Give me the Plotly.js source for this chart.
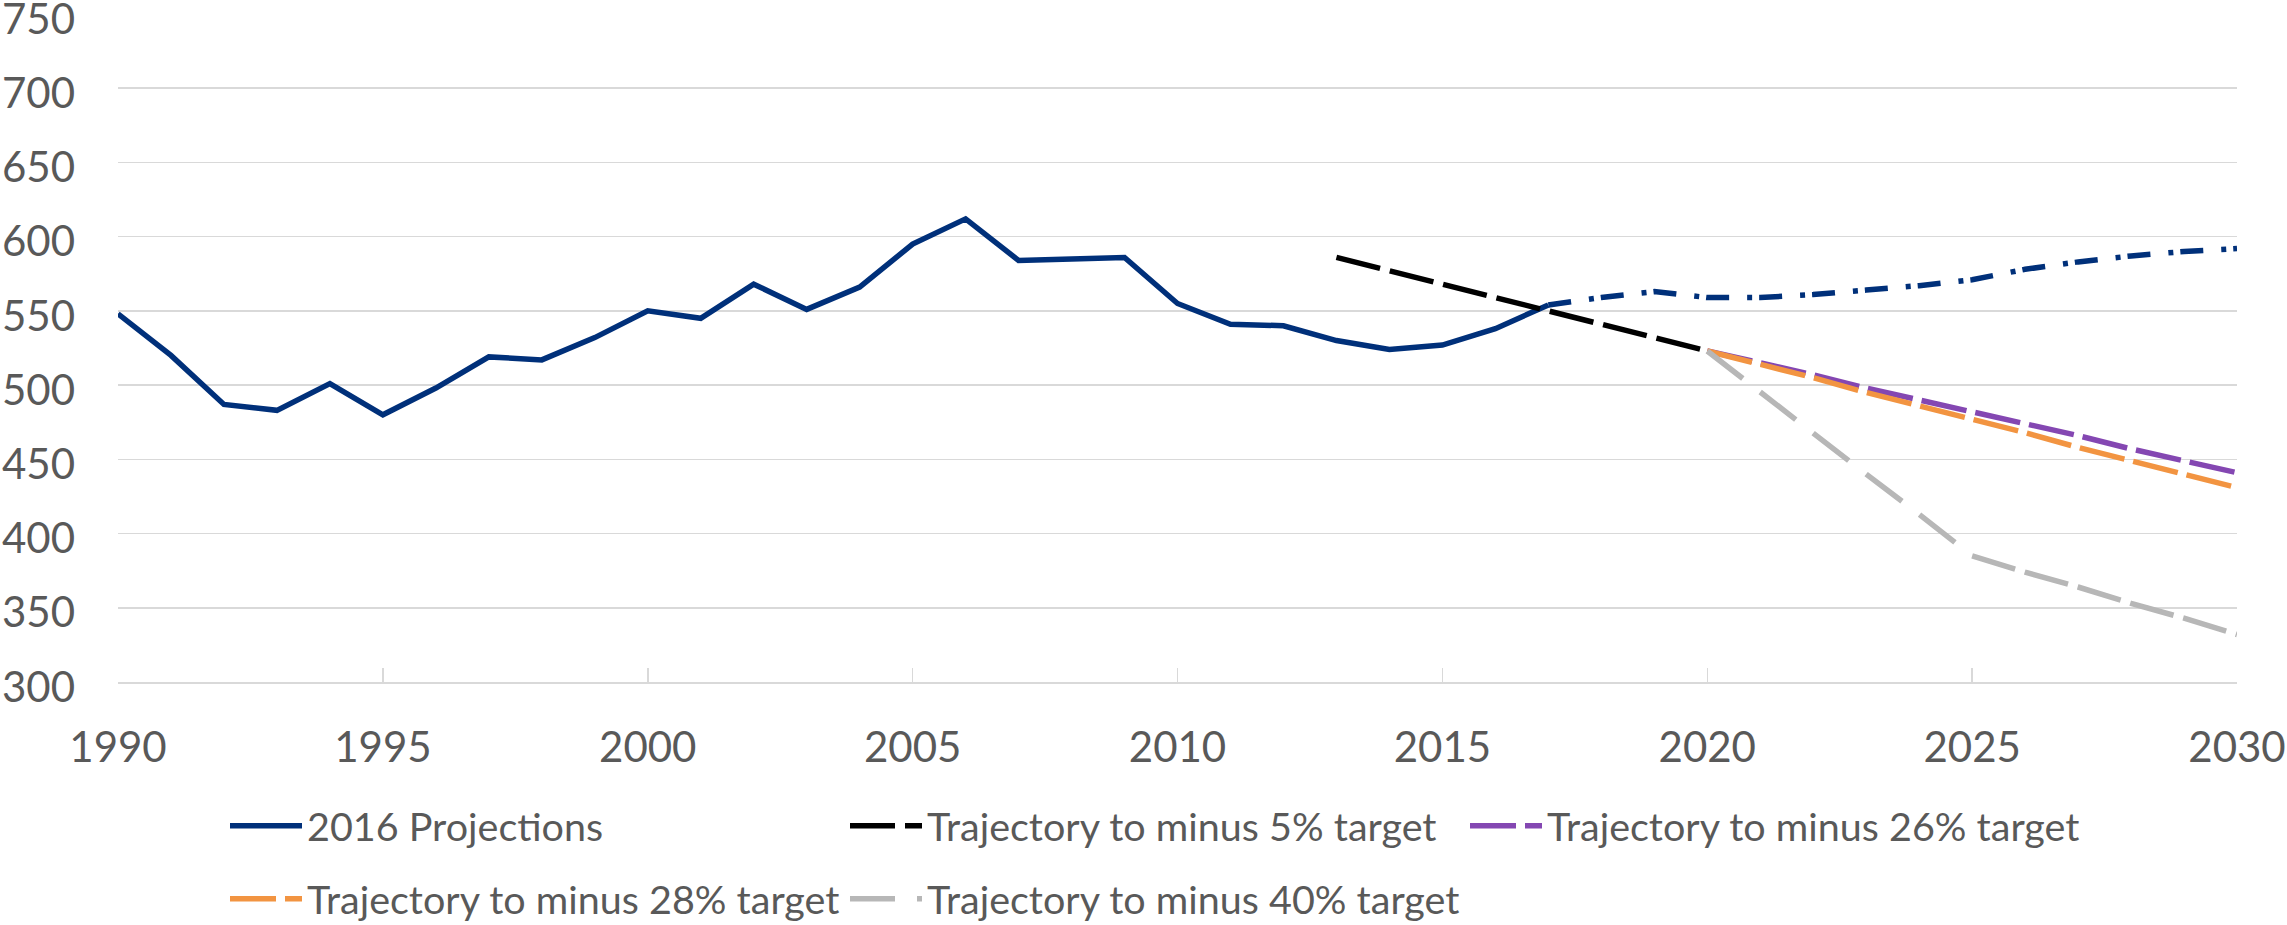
<!DOCTYPE html>
<html>
<head>
<meta charset="utf-8">
<script src="https://cdn.plot.ly/plotly-3.0.1.min.js"></script>
<style>html,body{margin:0;padding:0;background:#fff;}#chart{width:2287px;height:925px;}</style>
</head>
<body>
<div id="chart"></div>
<script>
// Historical series (solid), 1990-2017
var histYears = [1990,1991,1992,1993,1994,1995,1996,1997,1998,1999,2000,2001,2002,2003,2004,2005,2006,2007,2008,2009,2010,2011,2012,2013,2014,2015,2016,2017];
var histValues = [548,520,487,483,501,480,498,519,517,532,550,545,568,551,566,595,612,584,585,586,555,541,540,530,524,527,538,554];
// Projection part of the 2016 Projections series (dash-dot), 2017-2030
var projYears = [2017,2018,2019,2020,2021,2022,2023,2024,2025,2026,2027,2028,2029,2030];
var projValues = [554,559,563,559,559,561,564,567,571,578,583,587,590,592];
// Trajectory to minus 5% target, 2013-2020
var t5Years = [2013,2014,2015,2016,2017,2018,2019,2020];
var t5Values = [586,577,568,559,550,541,532,523];
// Targets from 2020 to 2030
var tYears = [2020,2021,2022,2023,2024,2025,2026,2027,2028,2029,2030];
var t26Values = [523,515,507,498,490,482,474,466,457,449,441];
var t28Values = [523,514,505,495,486,477,468,458,449,440,431];
var t40Values = [523,495,468,440,413,385,374,364,353,343,332];

var xTicks = [1990,1995,2000,2005,2010,2015,2020,2025,2030];
var names = ['2016 Projections','Trajectory to minus 5% target','Trajectory to minus 26% target','Trajectory to minus 28% target','Trajectory to minus 40% target'];

var navy = '#00307a', purple = '#8447b2', orange = '#f29441', grey = '#b7b7b7';
var lw = 5.5;

var traces = [
  {x: histYears, y: histValues, name: names[0], mode: 'lines', line: {color: navy, width: lw}, legend: 'legend'},
  {x: projYears, y: projValues, name: names[0], mode: 'lines', showlegend: false, line: {color: navy, width: lw, dash: '23px,18px,5px,7px'}, legend: 'legend'},
  {x: t5Years, y: t5Values, name: names[1], mode: 'lines', line: {color: '#000000', width: lw, dash: '45px,10px'}, legend: 'legend'},
  {x: tYears, y: t26Values, name: names[2], mode: 'lines', line: {color: purple, width: lw, dash: '46px,9px'}, legend: 'legend'},
  {x: tYears, y: t28Values, name: names[3], mode: 'lines', line: {color: orange, width: lw, dash: '46px,9px'}, legend: 'legend2'},
  {x: tYears.slice(0,6), y: t40Values.slice(0,6), name: names[4], mode: 'lines', line: {color: grey, width: lw, dash: '45px,22px'}, legend: 'legend2'},
  {x: tYears.slice(5), y: t40Values.slice(5), name: names[4], mode: 'lines', showlegend: false, line: {color: grey, width: lw, dash: '45px,10px'}, legend: 'legend2'}
];

var tickFont = {family: 'Lato, sans-serif', size: 42, color: '#595959'};
var legFont = {family: 'Lato, sans-serif', size: 39.5, color: '#595959'};

var layout = {
  width: 2287, height: 925,
  margin: {l: 118, r: 50, t: 14, b: 243},
  paper_bgcolor: '#ffffff', plot_bgcolor: '#ffffff',
  showlegend: true,
  xaxis: {
    range: [1990, 2030], tickvals: xTicks, ticktext: xTicks.map(String),
    ticks: 'inside', ticklen: 14, tickwidth: 1.5, tickcolor: '#d9d9d9',
    showline: true, linecolor: '#d9d9d9', linewidth: 1.5,
    showgrid: false, zeroline: false, tickfont: tickFont, ticklabelstandoff: 28,
    ticklabeloverflow: 'allow'
  },
  yaxis: {
    range: [300, 750], dtick: 50, tick0: 300,
    showgrid: true, gridcolor: '#d9d9d9', gridwidth: 1.5,
    zeroline: false, showline: false, ticks: '',
    tickfont: tickFont, ticklabelstandoff: 42, ticklabelshift: 5,
    ticklabeloverflow: 'allow'
  },
  legend: {
    orientation: 'h', xref: 'container', yref: 'container',
    x: 225/2287, y: 1 - 826/925, xanchor: 'left', yanchor: 'middle',
    font: legFont, itemwidth: 72, entrywidth: 533, bgcolor: 'rgba(0,0,0,0)', borderwidth: 0,
    itemclick: false, itemdoubleclick: false
  },
  legend2: {
    orientation: 'h', xref: 'container', yref: 'container',
    x: 225/2287, y: 1 - 899/925, xanchor: 'left', yanchor: 'middle',
    font: legFont, itemwidth: 72, entrywidth: 533, bgcolor: 'rgba(0,0,0,0)', borderwidth: 0,
    itemclick: false, itemdoubleclick: false
  }
};

Plotly.newPlot('chart', traces, layout, {displayModeBar: false, staticPlot: true});
</script>
</body>
</html>
